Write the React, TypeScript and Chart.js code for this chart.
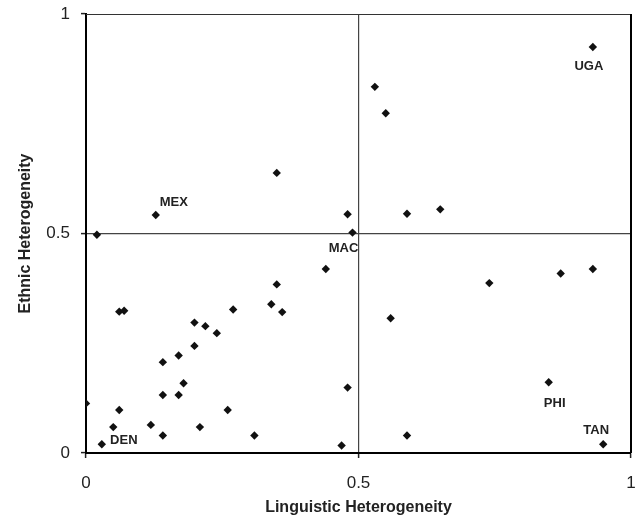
import React, { useEffect, useRef } from "react";
import { Chart, registerables } from "chart.js";

Chart.register(...registerables);

const linguistic = [
  0.0, 0.029, 0.05, 0.061, 0.061, 0.07, 0.119, 0.141, 0.141, 0.141, 0.17, 0.17, 0.179, 0.199, 0.199,
  0.209, 0.219, 0.24, 0.26, 0.27, 0.309, 0.34, 0.35, 0.36, 0.02, 0.128, 0.35, 0.48, 0.489, 0.53,
  0.55, 0.589, 0.65, 0.93, 0.44, 0.48, 0.469, 0.559, 0.589, 0.74, 0.871, 0.93, 0.849, 0.949,
];
const ethnic = [
  0.113, 0.02, 0.059, 0.098, 0.322, 0.324, 0.064, 0.04, 0.132, 0.207, 0.132, 0.222, 0.159, 0.244, 0.297,
  0.059, 0.289, 0.273, 0.098, 0.327, 0.04, 0.339, 0.384, 0.321, 0.497, 0.542, 0.638, 0.544, 0.502, 0.834,
  0.774, 0.545, 0.555, 0.925, 0.419, 0.149, 0.017, 0.307, 0.04, 0.387, 0.409, 0.419, 0.161, 0.02,
];
const countryLabels = [
  "", "DEN", "", "", "", "", "", "", "", "", "", "", "", "", "",
  "", "", "", "", "", "", "", "", "", "", "MEX", "", "", "MAC", "",
  "", "", "", "UGA", "", "", "", "", "", "", "", "", "PHI", "TAN",
];
const tickValues = [0, 0.5, 1];
const xTitle = "Linguistic Heterogeneity";
const yTitle = "Ethnic Heterogeneity";

const labelOffsets: Record<string, [number, number]> = {
  DEN: [22, -4],
  MEX: [18, -13],
  MAC: [-9, 16],
  UGA: [-4, 19],
  PHI: [6, 21],
  TAN: [-7, -14],
};

const FONT = "'Liberation Sans', Arial, Helvetica, sans-serif";

const framePlugin = {
  id: "frame",
  afterDraw(chart: any) {
    const { ctx, chartArea } = chart;
    const { left, right, top, bottom } = chartArea;
    ctx.save();
    ctx.strokeStyle = "#333";
    ctx.lineWidth = 1;
    ctx.beginPath();
    ctx.moveTo(left, top + 0.5);
    ctx.lineTo(right, top + 0.5);
    ctx.stroke();
    ctx.strokeStyle = "#000";
    ctx.lineWidth = 2;
    ctx.beginPath();
    ctx.moveTo(right, top);
    ctx.lineTo(right, bottom);
    ctx.stroke();
    ctx.restore();
  },
};

const labelPlugin = {
  id: "pointLabels",
  afterDatasetsDraw(chart: any) {
    const { ctx } = chart;
    const meta = chart.getDatasetMeta(0);
    ctx.save();
    ctx.font = `bold 13px ${FONT}`;
    ctx.fillStyle = "#222";
    ctx.textAlign = "center";
    ctx.textBaseline = "middle";
    countryLabels.forEach((lab, i) => {
      if (!lab) return;
      const el = meta.data[i];
      const off = labelOffsets[lab] || [0, 0];
      ctx.fillText(lab, el.x + off[0], el.y + off[1]);
    });
    ctx.restore();
  },
};

const zeroPad = (s: any) => {
  s.paddingTop = 0;
  s.paddingBottom = 0;
  s.paddingLeft = 0;
  s.paddingRight = 0;
};

export default function App() {
  const ref = useRef<HTMLCanvasElement>(null);
  useEffect(() => {
    if (!ref.current) return;
    const points = linguistic.map((x, i) => ({ x, y: ethnic[i] }));
    const gridColor = (c: any) => (c.tick && c.tick.value === 0.5 ? "#444" : "rgba(0,0,0,0)");
    const chart = new Chart(ref.current, {
      type: "scatter",
      data: {
        datasets: [
          {
            data: points,
            pointStyle: "rectRot",
            pointRadius: 4.2,
            backgroundColor: "#111",
            borderColor: "#111",
            borderWidth: 0,
          },
        ],
      },
      options: {
        animation: false,
        responsive: false,
        layout: { padding: { top: 14, right: 8, left: 0, bottom: 0 } },
        plugins: { legend: { display: false }, tooltip: { enabled: false } },
        scales: {
          x: {
            type: "linear",
            min: 0,
            max: 1,
            afterBuildTicks: (s: any) => {
              s.ticks = tickValues.map((v) => ({ value: v }));
            },
            afterFit: (s: any) => {
              s.height = 74;
              zeroPad(s);
            },
            ticks: {
              font: { family: FONT, size: 17 },
              color: "#222",
              padding: 15,
              maxRotation: 0,
              callback: (v: any) => String(v),
            },
            grid: { color: gridColor, lineWidth: 1.2, tickLength: 5, tickColor: "#222", tickWidth: 1.5 },
            border: { display: true, color: "#000", width: 2 },
            title: {
              display: true,
              text: xTitle,
              color: "#222",
              font: { family: FONT, size: 16, weight: "bold" },
              padding: { top: 0, bottom: 10 },
            },
          },
          y: {
            type: "linear",
            min: 0,
            max: 1,
            afterBuildTicks: (s: any) => {
              s.ticks = tickValues.map((v) => ({ value: v }));
            },
            afterFit: (s: any) => {
              s.width = 86;
              zeroPad(s);
            },
            ticks: {
              font: { family: FONT, size: 17 },
              color: "#222",
              padding: 11,
              callback: (v: any) => String(v),
            },
            grid: { color: gridColor, lineWidth: 1.2, tickLength: 5, tickColor: "#222", tickWidth: 1.5 },
            border: { display: true, color: "#000", width: 2 },
            title: {
              display: true,
              text: yTitle,
              color: "#222",
              font: { family: FONT, size: 16, weight: "bold" },
              padding: { top: 16, bottom: 0 },
            },
          },
        },
      },
      plugins: [framePlugin, labelPlugin],
    } as any);
    return () => chart.destroy();
  }, []);
  return (
    <div style={{ position: "absolute", left: 0, top: 0, width: 639, height: 527, background: "#fff" }}>
      <canvas ref={ref} width={639} height={527} style={{ width: 639, height: 527, display: "block" }} />
    </div>
  );
}
